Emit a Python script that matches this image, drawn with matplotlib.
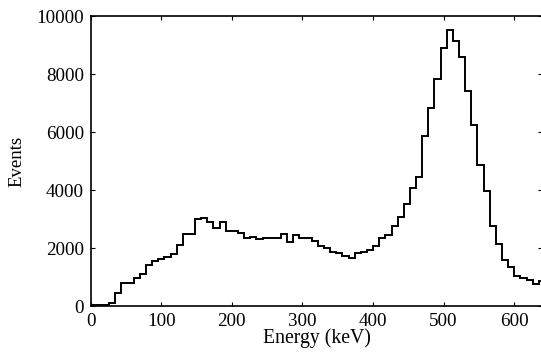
import numpy as np
import matplotlib
matplotlib.use("Agg")
import matplotlib.pyplot as plt

bin_width_kev = 8.7
counts = [20, 50, 50, 90, 440, 810, 780, 950, 1100, 1410,
          1560, 1630, 1690, 1780, 2090, 2480, 2480, 3000, 3020, 2880,
          2690, 2910, 2600, 2590, 2520, 2330, 2390, 2300, 2340, 2340,
          2340, 2480, 2200, 2460, 2330, 2360, 2250, 2060, 2000, 1870,
          1820, 1740, 1670, 1816, 1874, 1931, 2080, 2340, 2450, 2770,
          3070, 3510, 4080, 4460, 5870, 6820, 7830, 8885, 9520, 9150,
          8570, 7425, 6240, 4860, 3950, 2750, 2150, 1590, 1360, 1030,
          950, 890, 770, 860]
edges = np.arange(len(counts) + 1) * bin_width_kev

xticks = [0, 100, 200, 300, 400, 500, 600]
yticks = [0, 2000, 4000, 6000, 8000, 10000]

plt.rcParams['font.family'] = ['Liberation Serif', 'DejaVu Serif']

fig = plt.figure(figsize=(5.41, 3.56), dpi=100)
ax = fig.add_axes([0.1677, 0.1404, 0.8347, 0.8146])

ax.stairs(counts, edges, baseline=None, color='black', linewidth=1.4)

ax.set_xlim(0, 640)
ax.set_ylim(0, 10000)
ax.set_xticks(xticks)
ax.set_yticks(yticks)
ax.tick_params(direction='in', top=True, right=True, length=3, width=0.8,
               labelsize=13.7, pad=5)
for s in ax.spines.values():
    s.set_linewidth(1.2)

ax.set_xlabel('Energy (keV)', fontsize=14.2, labelpad=-1)
ax.set_ylabel('Events', fontsize=13.5, labelpad=8)

fig.savefig('out.png', dpi=100)
